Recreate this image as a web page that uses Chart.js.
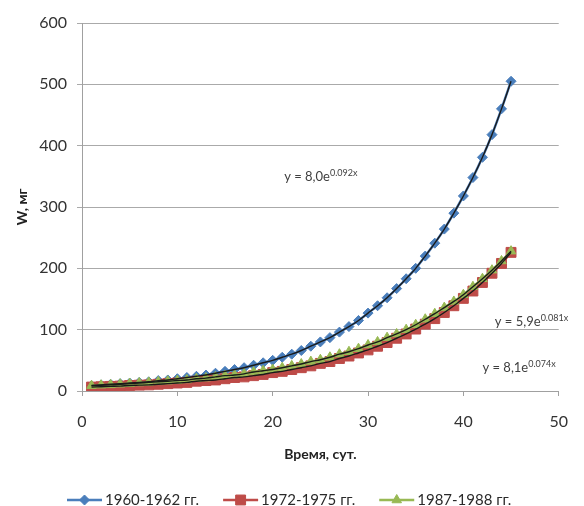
<!DOCTYPE html>
<html lang="ru">
<head>
  <meta charset="UTF-8">
  <title>W, мг — Время, сут.</title>
  <style>
    html, body { margin: 0; padding: 0; background: #fff; }
    #wrap { width: 584px; height: 506px; }
  </style>
  <script src="https://cdn.jsdelivr.net/npm/chart.js@4/dist/chart.umd.min.js"></script>
</head>
<body>
  <div id="wrap"><canvas id="chart" width="584" height="506"></canvas></div>

  <script>
    // дни наблюдений
    const days = [1, 2, 3, 4, 5, 6, 7, 8, 9, 10, 11, 12, 13, 14, 15, 16, 17, 18, 19, 20,
      21, 22, 23, 24, 25, 26, 27, 28, 29, 30, 31, 32, 33, 34, 35, 36, 37, 38, 39, 40,
      41, 42, 43, 44, 45];

    // масса W, мг
    const w1960 = [9, 10, 11, 12, 13, 14, 15, 17, 18, 20, 22, 24, 26, 29, 32, 35, 38, 42, 46, 50,
      55, 60, 66, 73, 80, 87, 96, 105, 115, 127, 139, 152, 167, 183, 200, 220, 241, 264, 290, 318,
      348, 381, 418, 460, 505];
    const w1972 = [6.4, 7, 7.5, 8, 9, 9.5, 10, 11, 12, 13, 14, 16, 17, 18, 20, 22, 23, 25, 27, 30,
      32, 35, 38, 41, 45, 48, 53, 57, 62, 67, 73, 79, 86, 93, 101, 109, 118, 128, 139, 151,
      163, 177, 192, 208, 226];
    const w1987 = [8.7, 9.4, 10, 11, 12, 13, 14, 15, 16, 17, 18, 20, 21, 23, 25, 26, 28, 31, 33, 35,
      38, 41, 44, 48, 51, 55, 60, 64, 69, 75, 80, 87, 93, 100, 108, 117, 126, 136, 146, 157,
      170, 183, 197, 212, 228];

    const seriesNames = ['1960-1962 гг.', '1972-1975 гг.', '1987-1988 гг.'];
    const seriesColors = ['#4A7EBB', '#BE4B48', '#98B954'];
    const seriesMarkers = ['rectRot', 'rect', 'triangle'];
    const markerSizes = [5, 7, 5.5];

    // подписи линий тренда
    const trendLabels = [
      { base: 'y = 8,0e', exp: '0.092x', x: 21.2, y: 349 },
      { base: 'y = 5,9e', exp: '0.081x', x: 43.3, y: 112 },
      { base: 'y = 8,1e', exp: '0.074x', x: 42.0, y: 37 }
    ];

    const xTicks = [0, 10, 20, 30, 40, 50];
    const yTicks = [0, 100, 200, 300, 400, 500, 600];

    const FONT = 'Lato, "Open Sans", sans-serif';
    const allSeries = [w1960, w1972, w1987];

    function toPoints(arr) {
      return days.map((d, i) => ({ x: d, y: arr[i] }));
    }

    const datasets = [];
    // линии тренда (тонкие чёрные) поверх
    allSeries.forEach((arr, i) => {
      datasets.push({
        label: 'trend' + i,
        data: toPoints(arr),
        borderColor: '#1a1a1a',
        borderWidth: 1.4,
        pointRadius: 0,
        tension: 0.3,
        order: 0
      });
    });
    // основные ряды
    allSeries.forEach((arr, i) => {
      datasets.push({
        label: seriesNames[i],
        data: toPoints(arr),
        borderColor: seriesColors[i],
        backgroundColor: seriesColors[i],
        borderWidth: 2.5,
        pointStyle: seriesMarkers[i],
        pointRadius: markerSizes[i],
        pointBorderWidth: 1,
        pointBorderColor: seriesColors[i],
        pointBackgroundColor: seriesColors[i],
        tension: 0.3,
        order: 3 - i
      });
    });

    // подписи уравнений с показателем степени
    const trendLabelPlugin = {
      id: 'trendLabelPlugin',
      afterDatasetsDraw(chart) {
        const ctx = chart.ctx;
        const xs = chart.scales.x, ys = chart.scales.y;
        ctx.save();
        ctx.fillStyle = '#404040';
        ctx.textBaseline = 'middle';
        ctx.textAlign = 'left';
        trendLabels.forEach(t => {
          const px = xs.getPixelForValue(t.x);
          const py = ys.getPixelForValue(t.y);
          ctx.font = '13px ' + FONT;
          ctx.fillText(t.base, px, py);
          const w = ctx.measureText(t.base).width;
          ctx.font = '9px ' + FONT;
          ctx.fillText(t.exp, px + w, py - 4);
        });
        ctx.restore();
      }
    };

    // легенда: линия с маркером и подпись
    const legendPlugin = {
      id: 'lineLegend',
      afterDraw(chart) {
        const ctx = chart.ctx;
        const y = 500;
        let x = 67;
        ctx.save();
        ctx.textBaseline = 'middle';
        ctx.textAlign = 'left';
        ctx.font = '15px ' + FONT;
        seriesNames.forEach((name, i) => {
          ctx.strokeStyle = seriesColors[i];
          ctx.lineWidth = 2.5;
          ctx.beginPath();
          ctx.moveTo(x, y);
          ctx.lineTo(x + 35, y);
          ctx.stroke();
          ctx.fillStyle = seriesColors[i];
          ctx.lineWidth = 1;
          Chart.helpers.drawPoint(ctx, {
            pointStyle: seriesMarkers[i],
            radius: markerSizes[i],
            rotation: 0,
            borderWidth: 1
          }, x + 17.5, y);
          ctx.fillStyle = '#2a2a2a';
          ctx.fillText(name, x + 38, y);
          x += 38 + ctx.measureText(name).width + 24;
        });
        ctx.restore();
      }
    };

    new Chart(document.getElementById('chart'), {
      type: 'line',
      data: { datasets: datasets },
      options: {
        responsive: false,
        animation: false,
        layout: { padding: { top: 23, right: 22, bottom: 43, left: 8 } },
        plugins: {
          legend: { display: false },
          tooltip: { enabled: false }
        },
        scales: {
          x: {
            type: 'linear',
            min: 0,
            max: 50,
            afterBuildTicks(scale) { scale.ticks = xTicks.map(v => ({ value: v })); },
            afterFit(scale) { scale.height = 72; },
            grid: { drawOnChartArea: false, color: '#a0a0a0', tickLength: 5 },
            border: { color: '#a0a0a0', width: 1 },
            ticks: { color: '#333', font: { family: FONT, size: 16 }, padding: 16 },
            title: {
              display: true,
              text: 'Время, сут.',
              color: '#222',
              font: { family: FONT, size: 14, weight: 'bold' },
              padding: { top: 0, bottom: 0 }
            }
          },
          y: {
            min: 0,
            max: 600,
            afterBuildTicks(scale) { scale.ticks = yTicks.map(v => ({ value: v })); },
            afterFit(scale) { scale.width = 74; },
            grid: { color: '#aaaaaa', tickLength: 5 },
            border: { color: '#a0a0a0', width: 1 },
            ticks: { color: '#333', font: { family: FONT, size: 16 }, padding: 10 },
            title: {
              display: true,
              text: 'W, мг',
              color: '#222',
              font: { family: FONT, size: 14, weight: 'bold' },
              padding: { top: 6, bottom: 0 }
            }
          }
        }
      },
      plugins: [trendLabelPlugin, legendPlugin]
    });
  </script>
</body>
</html>
